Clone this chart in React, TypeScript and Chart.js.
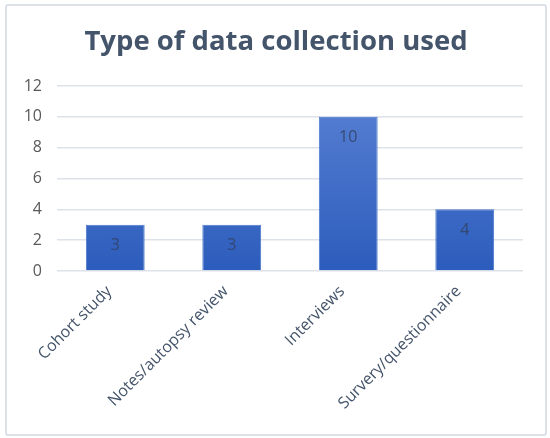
import React, { useEffect, useRef } from "react";
import { Chart, registerables } from "chart.js";

Chart.register(...registerables);

const categories = ["Cohort study", "Notes/autopsy review", "Interviews", "Survery/questionnaire"];
const counts = [3, 3, 10, 4];
const yTicks = [0, 2, 4, 6, 8, 10, 12];
const titleText = "Type of data collection used";

const FONT = "'Open Sans', 'Noto Sans', sans-serif";

const valueLabels = {
  id: "valueLabels",
  afterDatasetsDraw(chart: any) {
    const ctx = chart.ctx;
    const meta = chart.getDatasetMeta(0);
    ctx.save();
    ctx.font = `16px ${FONT}`;
    ctx.fillStyle = "rgba(52,66,100,0.85)";
    ctx.textAlign = "center";
    ctx.textBaseline = "middle";
    meta.data.forEach((bar: any, i: number) => {
      ctx.fillText(String(counts[i]), bar.x, bar.y + 21);
    });
    ctx.restore();
  },
};

export default function App() {
  const ref = useRef<HTMLCanvasElement | null>(null);
  useEffect(() => {
    if (!ref.current) return;
    const chart = new Chart(ref.current, {
      type: "bar",
      data: {
        labels: categories,
        datasets: [
          {
            data: counts,
            backgroundColor: (c: any) => {
              const { chart } = c;
              const area = chart.chartArea;
              if (!area) return "#4472c4";
              const g = chart.ctx.createLinearGradient(0, area.top, 0, area.bottom);
              g.addColorStop(0, "#5a82d4");
              g.addColorStop(1, "#2c5cbc");
              return g;
            },
            borderColor: "#4a78cc",
            borderWidth: 1,
            barPercentage: 0.505,
            categoryPercentage: 1,
          },
        ],
      },
      options: {
        animation: false,
        responsive: false,
        maintainAspectRatio: false,
        layout: { padding: 0 },
        plugins: {
          legend: { display: false },
          tooltip: { enabled: false },
          title: {
            display: true,
            text: titleText,
            color: "#44546a",
            font: { family: FONT, size: 27.5, weight: "bold" },
            padding: { top: 20, bottom: 27 },
          },
        },
        scales: {
          x: {
            grid: { display: false, drawTicks: false },
            border: { display: false },
            ticks: {
              color: "#44546a",
              font: { family: FONT, size: 16 },
              minRotation: 45,
              maxRotation: 45,
              padding: 11,
              labelOffset: -6,
            },
            afterFit: (s: any) => {
              s.height = 163;
            },
          },
          y: {
            min: 0,
            max: 12,
            afterBuildTicks: (s: any) => {
              s.ticks = yTicks.map((v) => ({ value: v }));
            },
            grid: { color: "#dde2ea", lineWidth: 1.5, drawTicks: false },
            border: { display: false },
            ticks: {
              color: "#595959",
              font: { family: FONT, size: 16 },
              padding: 15,
            },
            afterFit: (s: any) => {
              s.width = 50;
            },
          },
          spacer: {
            type: "linear",
            position: "right",
            display: true,
            grid: { display: false, drawTicks: false },
            border: { display: false },
            ticks: { display: false },
            afterFit: (s: any) => {
              s.width = 22;
            },
          },
        },
      },
      plugins: [valueLabels],
    } as any);
    return () => chart.destroy();
  }, []);

  return (
    <div
      style={{
        position: "fixed",
        left: 5,
        top: 4,
        width: 538,
        height: 428,
        border: "2px solid #dce1e8",
        borderRadius: 3,
        background: "#fff",
      }}
    >
      <canvas ref={ref} width={538} height={428} style={{ display: "block" }} />
    </div>
  );
}
